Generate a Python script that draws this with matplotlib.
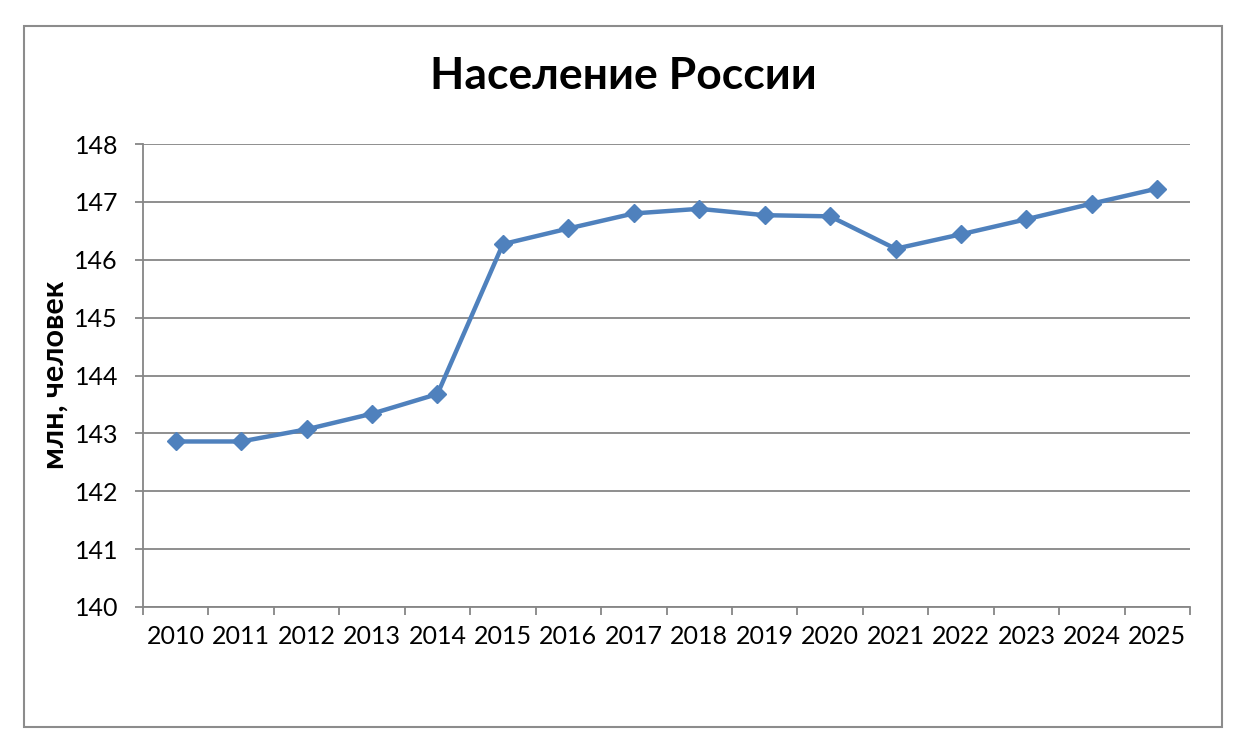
import numpy as np
import matplotlib.pyplot as plt
from matplotlib.patches import Rectangle

years = ["2010", "2011", "2012", "2013", "2014", "2015", "2016", "2017",
         "2018", "2019", "2020", "2021", "2022", "2023", "2024", "2025"]
population = [142.86, 142.86, 143.07, 143.34, 143.68, 146.27, 146.54, 146.80,
              146.88, 146.77, 146.75, 146.19, 146.44, 146.70, 146.97, 147.23]
y_ticks = [140, 141, 142, 143, 144, 145, 146, 147, 148]

plt.rcParams['font.family'] = ['Lato', 'DejaVu Sans']

fig = plt.figure(figsize=(12.46, 7.42), dpi=100)
ax = fig.add_axes([143 / 1246, 1 - 607 / 742, (1190 - 143) / 1246, (607 - 144) / 742])

# outer chart border
fig.patches.append(Rectangle((24 / 1246, 1 - 727 / 742), (1222 - 24) / 1246, (727 - 26) / 742,
                             transform=fig.transFigure, fill=False,
                             edgecolor="#8c8c8c", linewidth=1.5))

x = np.arange(len(years))
ax.plot(x, population, color="#4F81BD", linewidth=3.2, marker="D",
        markersize=9, markerfacecolor="#4F81BD", markeredgecolor="#4F81BD", zorder=3)

ax.set_xlim(-0.5, len(years) - 0.5)
ax.set_ylim(140, 148)
ax.set_yticks(y_ticks)
ax.set_yticklabels([str(v) for v in y_ticks], fontsize=18)
ax.set_xticks(x)
ax.set_xticklabels(years, fontsize=18)
ax.set_xticks(np.arange(-0.5, len(years)), minor=True)
ax.tick_params(axis="x", which="major", length=0, pad=13)
ax.tick_params(axis="x", which="minor", length=6, color="#868686", width=1.3)
ax.tick_params(axis="y", length=6, color="#868686", width=1.3, pad=12)

ax.grid(axis="y", color="#868686", linewidth=1.3)
ax.set_axisbelow(True)
for side in ["top", "right"]:
    ax.spines[side].set_visible(False)
for side in ["left", "bottom"]:
    ax.spines[side].set_color("#868686")
    ax.spines[side].set_linewidth(1.3)

fig.text(55 / 1246, 1 - 375 / 742, "млн, человек", fontsize=22, fontweight="bold",
         rotation=90, ha="center", va="center")
fig.text(623 / 1246, 1 - 76 / 742, "Население России", fontsize=32,
         fontweight="bold", ha="center", va="center")

fig.savefig("out.png", dpi=100)
